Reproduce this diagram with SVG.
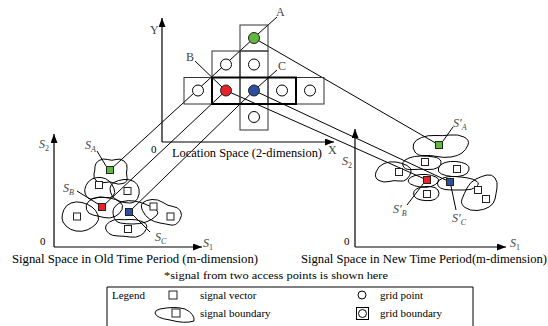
<svg xmlns="http://www.w3.org/2000/svg" width="548" height="326" viewBox="0 0 548 326">
<style>
text{font-family:"Liberation Serif","DejaVu Serif",serif;fill:#000}
.t12{font-size:12px}
.t11{font-size:11px}
.lab{font-size:12px;fill:#444;font-style:italic}
.glab{font-size:12px;fill:#444}
.ax{stroke:#000;stroke-width:1.2;fill:none}
.ln{stroke:#000;stroke-width:1;fill:none}
.cell{fill:none;stroke:#333;stroke-width:1}
.gp{fill:#fff;stroke:#000;stroke-width:1}
.blob{fill:none;stroke:#000;stroke-width:1}
.sq{fill:#fff;stroke:#222;stroke-width:1}
.g{fill:#62b83e;stroke:#222;stroke-width:1}
.r{fill:#e8212b;stroke:#222;stroke-width:1}
.b{fill:#2c4f9f;stroke:#222;stroke-width:1}
</style>
<defs>
<marker id="arr" markerUnits="userSpaceOnUse" markerWidth="9" markerHeight="7" refX="9" refY="3.5" orient="auto">
<path d="M0,0 L9,3.5 L0,7 Z" fill="#000"/>
</marker>
</defs>

<g id="axes">
<line class="ax" x1="162" y1="142" x2="162" y2="18" marker-end="url(#arr)"/>
<line class="ax" x1="162" y1="142" x2="334" y2="142" marker-end="url(#arr)"/>
<line class="ax" x1="54" y1="247" x2="54" y2="134" marker-end="url(#arr)"/>
<line class="ax" x1="54" y1="247" x2="202" y2="247" marker-end="url(#arr)"/>
<line class="ax" x1="355" y1="247" x2="355" y2="129" marker-end="url(#arr)"/>
<line class="ax" x1="355" y1="247" x2="506" y2="247" marker-end="url(#arr)"/>
<text class="glab" x="150" y="34">Y</text>
<text class="glab" x="328" y="154">X</text>
<text class="t11" x="151" y="153">0</text>
<text class="t12" x="172" y="157" textLength="150" lengthAdjust="spacingAndGlyphs">Location Space (2-dimension)</text>
<text class="lab" x="39" y="148">S<tspan dy="3" font-size="8" font-style="normal">2</tspan></text>
<text class="t11" x="40" y="245">0</text>
<text class="lab" x="203" y="247">S<tspan dy="3" font-size="8" font-style="normal">1</tspan></text>
<text class="lab" x="342" y="165">S<tspan dy="3" font-size="8" font-style="normal">2</tspan></text>
<text class="t11" x="344" y="245">0</text>
<text class="lab" x="510" y="247">S<tspan dy="3" font-size="8" font-style="normal">1</tspan></text>
</g>

<g id="connectors">
<line class="ln" x1="110" y1="170" x2="254" y2="38"/>
<line class="ln" x1="102" y1="207" x2="226" y2="90.5"/>
<line class="ln" x1="129" y1="212" x2="254" y2="90.5"/>
<line class="ln" x1="254" y1="38" x2="439" y2="145"/>
<line class="ln" x1="226" y1="90.5" x2="427" y2="180"/>
<line class="ln" x1="254" y1="90.5" x2="450" y2="182"/>
<line class="ln" x1="277" y1="17" x2="258" y2="34"/>
<line class="ln" x1="195" y1="61" x2="222" y2="87"/>
<line class="ln" x1="277" y1="70" x2="258" y2="87"/>
<line class="ln" x1="97" y1="151" x2="106" y2="166"/>
<line class="ln" x1="77" y1="191" x2="98" y2="204"/>
<line class="ln" x1="133" y1="215" x2="150" y2="232"/>
<line class="ln" x1="453" y1="127" x2="443" y2="141"/>
<line class="ln" x1="407" y1="205" x2="423" y2="184"/>
<line class="ln" x1="456" y1="210" x2="451" y2="186"/>
</g>

<g id="grid">
<rect class="cell" x="240" y="25" width="28" height="26"/>
<rect class="cell" x="212" y="51" width="28" height="26.5"/>
<rect class="cell" x="240" y="51" width="28" height="26.5"/>
<rect class="cell" x="184" y="77.5" width="28" height="26.5"/>
<rect class="cell" x="212" y="77.5" width="28" height="26.5"/>
<rect class="cell" x="240" y="77.5" width="28" height="26.5"/>
<rect class="cell" x="268" y="77.5" width="28" height="26.5"/>
<rect class="cell" x="296" y="77.5" width="28" height="26.5"/>
<rect class="cell" x="240" y="104" width="28" height="26"/>
<rect x="212" y="77.5" width="84" height="26.5" fill="none" stroke="#000" stroke-width="2"/>
<circle class="gp" cx="226" cy="64.5" r="5.5"/>
<circle class="gp" cx="254" cy="64.5" r="5.5"/>
<circle class="gp" cx="198" cy="90.5" r="5.5"/>
<circle class="gp" cx="282" cy="90.5" r="5.5"/>
<circle class="gp" cx="310" cy="90.5" r="5.5"/>
<circle class="gp" cx="254" cy="117" r="5.5"/>
</g>
<g id="nodeA"><circle class="g" cx="254" cy="38" r="5.5"/><text class="glab" x="276" y="16">A</text></g>
<g id="nodeB"><circle class="r" cx="226" cy="90.5" r="5.5"/><text class="glab" x="186" y="61">B</text></g>
<g id="nodeC"><circle class="b" cx="254" cy="90.5" r="5.5"/><text class="glab" x="278" y="70">C</text></g>

<g id="oldSignal">
<path class="blob" d="M99,160.5 Q103,158 107.5,159.5 Q112,161 116,159.5 Q120,158 124,161 Q128,164 127,168.5 Q126,173 127,177.5 Q128,182 123,183.5 Q118,185 114,183 Q110,181 105,182.5 Q100,184 96.5,181 Q93,178 94,174 Q95,170 95,166.5 Q95,163 99,160.5Z"/>
<path class="blob" d="M86,185.5 Q88,181 92,179 Q96,177 101,177.5 Q106,178 109,181 Q112,184 114,188.5 Q116,193 113,196 Q110,199 105,197.5 Q100,196 95,198 Q90,200 88,198 Q86,196 85,193 Q84,190 86,185.5Z"/>
<path class="blob" d="M114,182.5 Q118,180 124,179.5 Q130,179 134,181.5 Q138,184 139,189 Q140,194 137.5,198.5 Q135,203 129.5,203 Q124,203 119,201 Q114,199 112,195.5 Q110,192 110,188.5 Q110,185 114,182.5Z"/>
<path class="blob" d="M88.5,201.5 Q92,198 98,197.5 Q104,197 110,198 Q116,199 120,202 Q124,205 122,209.5 Q120,214 115,216.5 Q110,219 104,217.5 Q98,216 93,215 Q88,214 86.5,209.5 Q85,205 88.5,201.5Z"/>
<path class="blob" d="M64,209.5 Q66,205 71,203 Q76,201 82,202.5 Q88,204 92,207 Q96,210 98,215 Q100,220 96,224 Q92,228 87,230 Q82,232 76,231 Q70,230 66,226 Q62,222 62,218 Q62,214 64,209.5Z"/>
<path class="blob" d="M115,206.5 Q118,203 123,201.5 Q128,200 134,201 Q140,202 145,204 Q150,206 155,209 Q160,212 156,216 Q152,220 146,222 Q140,224 133,224 Q126,224 120.5,223 Q115,222 113.5,216 Q112,210 115,206.5Z"/>
<path class="blob" d="M143,202.5 Q146,200 152,199.5 Q158,199 163,202.5 Q168,206 173,206.5 Q178,207 180.5,211 Q183,215 179.5,220.5 Q176,226 171,225 Q166,224 160,223 Q154,222 149.5,219 Q145,216 142.5,210.5 Q140,205 143,202.5Z"/>
<path class="blob" d="M109.5,222 Q114,219 119,219.5 Q124,220 130,219.5 Q136,219 142,221.5 Q148,224 146.5,228.5 Q145,233 140.5,235.5 Q136,238 130,237 Q124,236 118,236 Q112,236 109,233.5 Q106,231 105.5,228 Q105,225 109.5,222Z"/>
<rect class="sq" x="95.5" y="181.5" width="7" height="7"/>
<rect class="sq" x="124" y="187.5" width="7" height="7"/>
<rect class="sq" x="73.5" y="213" width="7" height="7"/>
<rect class="sq" x="150" y="203" width="7" height="7"/>
<rect class="sq" x="167" y="213" width="7" height="7"/>
<rect class="sq" x="124.5" y="225.5" width="7" height="7"/>
</g>
<g id="SA"><rect class="g" x="106.5" y="166.5" width="7" height="7"/><text class="lab" x="85" y="149">S<tspan dy="3" font-size="8">A</tspan></text></g>
<g id="SB"><rect class="r" x="98.5" y="203.5" width="7" height="7"/><text class="lab" x="63" y="192">S<tspan dy="3" font-size="8">B</tspan></text></g>
<g id="SC"><rect class="b" x="125.5" y="208.5" width="7" height="7"/><text class="lab" x="155" y="241">S<tspan dy="3" font-size="8">C</tspan></text></g>

<g id="newSignal">
<path class="blob" d="M421.5,137.5 Q428,135 435,135.5 Q442,136 450,135 Q458,134 464,137 Q470,140 468,145 Q466,150 462,153 Q458,156 451,157 Q444,158 437,156.5 Q430,155 424,155.5 Q418,156 415,152 Q412,148 413.5,144 Q415,140 421.5,137.5Z"/>
<path class="blob" d="M409,158 Q414,156 421,156 Q428,156 434,157 Q440,158 441,161.5 Q442,165 438,167.5 Q434,170 427,169.5 Q420,169 413,169.5 Q406,170 404,167.5 Q402,165 403,162.5 Q404,160 409,158Z"/>
<path class="blob" d="M384,163.5 Q390,161 396,162 Q402,163 407,165.5 Q412,168 411,172 Q410,176 407,179 Q404,182 399,181 Q394,180 389,181.5 Q384,183 379,180.5 Q374,178 376,172 Q378,166 384,163.5Z"/>
<path class="blob" d="M445,162.5 Q450,161 456,161.5 Q462,162 466,164 Q470,166 469,170 Q468,174 463,175.5 Q458,177 452,176.5 Q446,176 441.5,174 Q437,172 438.5,168 Q440,164 445,162.5Z"/>
<path class="blob" d="M415,175.5 Q420,174 426,174.5 Q432,175 436,177 Q440,179 438,182 Q436,185 431,186.5 Q426,188 420,187 Q414,186 410.5,184 Q407,182 408.5,179.5 Q410,177 415,175.5Z"/>
<path class="blob" d="M419.5,187.5 Q424,186 430,186.5 Q436,187 438,190 Q440,193 438,196.5 Q436,200 431,200.5 Q426,201 421,200 Q416,199 414.5,196.5 Q413,194 414,191.5 Q415,189 419.5,187.5Z"/>
<path class="blob" d="M443,178 Q448,176 455,176.5 Q462,177 468,178 Q474,179 477,181.5 Q480,184 476,187 Q472,190 465,190 Q458,190 451,190 Q444,190 440.5,188 Q437,186 437.5,183 Q438,180 443,178Z"/>
<path class="blob" d="M476,179 Q482,176 487,175 Q492,174 495,178 Q498,182 497,188 Q496,194 495,199 Q494,204 489,207 Q484,210 477,210.5 Q470,211 465,207.5 Q460,204 462,199 Q464,194 467,188 Q470,182 476,179Z"/>
<rect class="sq" x="421.5" y="158.5" width="7" height="7"/>
<rect class="sq" x="453.5" y="165.5" width="7" height="7"/>
<rect class="sq" x="395.5" y="168.5" width="7" height="7"/>
<rect class="sq" x="423.5" y="190.5" width="7" height="7"/>
<rect class="sq" x="474.5" y="186.5" width="7" height="7"/>
<rect class="sq" x="482.5" y="195.5" width="7" height="7"/>
</g>
<g id="SpA"><rect class="g" x="435.5" y="141.5" width="7" height="7"/><text class="lab" x="453" y="127">S′<tspan dy="3" font-size="8">A</tspan></text></g>
<g id="SpB"><rect class="r" x="423.5" y="176.5" width="7" height="7"/><text class="lab" x="393" y="213">S′<tspan dy="3" font-size="8">B</tspan></text></g>
<g id="SpC"><rect class="b" x="446.5" y="178.5" width="7" height="7"/><text class="lab" x="452" y="222">S′<tspan dy="3" font-size="8">C</tspan></text></g>

<g id="captions">
<text class="t12" x="12" y="263" textLength="246" lengthAdjust="spacingAndGlyphs">Signal Space in Old Time Period (m-dimension)</text>
<text class="t12" x="301" y="263" textLength="246" lengthAdjust="spacingAndGlyphs">Signal Space in New Time Period(m-dimension)</text>
<text class="t11" x="164" y="279" textLength="224" lengthAdjust="spacingAndGlyphs">*signal from two access points is shown here</text>
</g>

<g id="legend">
<path d="M107,327 V287 H473 V327" fill="none" stroke="#000" stroke-width="1"/>
<text class="t11" x="112" y="299">Legend</text>
<rect class="sq" x="169" y="291" width="8" height="8"/>
<text class="t11" x="200" y="299">signal vector</text>
<circle class="gp" cx="362" cy="295" r="4"/>
<text class="t11" x="380" y="299">grid point</text>
<path class="blob" d="M160,309 Q175,306 185,309 Q195,314 194,321 Q185,324 170,320 Q156,318 155,313 Q155,310 160,309Z"/>
<rect class="sq" x="172" y="309" width="8" height="8"/>
<text class="t11" x="200" y="317">signal boundary</text>
<rect x="356.5" y="307.5" width="12" height="12" fill="none" stroke="#000" stroke-width="1"/>
<circle class="gp" cx="362.5" cy="313.5" r="4"/>
<text class="t11" x="380" y="317">grid boundary</text>
</g>
</svg>
